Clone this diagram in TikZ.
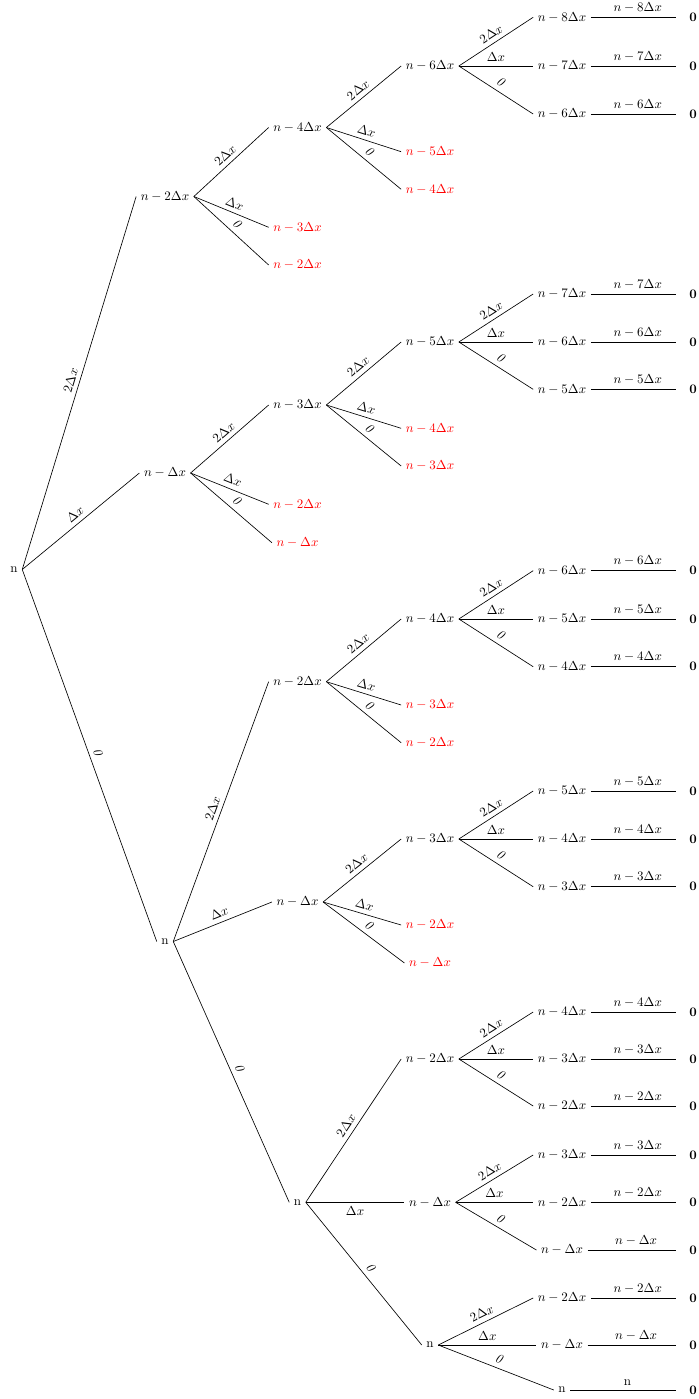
\documentclass[tikz,border=0pt]{standalone}
\begin{document}
\begin{tikzpicture}[x=0.77pt,y=-0.77pt,
  nd/.style={inner sep=3.333pt},
  rd/.style={nd,text=red},
  zero/.style={inner sep=3.333pt,font=\bfseries},
  el/.style={sloped,above,midway},
  every path/.style={line width=0.5pt}]
\useasboundingbox (0,0) rectangle (699,1399);
\newcommand\mysplit[4]{%
  \draw (#1.east) -- node[el]{$2\Delta x$} (#2.west);
  \draw (#1.east) -- node[el]{$\Delta x$} (#3.west);
  \draw (#1.east) -- node[el]{\textit{0}} (#4.west);}
\newcommand\myleaf[3]{%
  \node[nd] (#1) at (562,#2) {#3};
  \node[zero] (#1z) at (693,#2) {0};
  \draw[shorten >=6.9pt] (#1.east) -- node[above,midway]{#3} (#1z.west);}
% level 0/1
\node[nd] (r) at (14,569.5) {n};
\node[nd] (a) at (165,196.5) {$n-2\Delta x$};
\node[nd] (b) at (165,473) {$n-\Delta x$};
\node[nd] (c) at (165,941.5) {n};
\mysplit{r}{a}{b}{c}
% level 2
\node[nd] (aa) at (297.5,127.5) {$n-4\Delta x$};
\node[rd] (ab) at (297.5,227.3) {$n-3\Delta x$};
\node[rd] (ac) at (297.5,265) {$n-2\Delta x$};
\mysplit{a}{aa}{ab}{ac}
\node[nd] (ba) at (297.5,405) {$n-3\Delta x$};
\node[rd] (bb) at (297.5,504.3) {$n-2\Delta x$};
\node[rd] (bc) at (297.5,542.7) {$n-\Delta x$};
\mysplit{b}{ba}{bb}{bc}
\node[nd] (ca) at (297.5,681.7) {$n-2\Delta x$};
\node[nd] (cb) at (297.5,902) {$n-\Delta x$};
\node[nd] (cc) at (297.5,1202.3) {n};
\mysplit{c}{ca}{cb}{cc}
% level 3
\node[nd] (aaa) at (430,66) {$n-6\Delta x$};
\node[rd] (aab) at (430,151.7) {$n-5\Delta x$};
\node[rd] (aac) at (430,189.3) {$n-4\Delta x$};
\mysplit{aa}{aaa}{aab}{aac}
\node[nd] (baa) at (430,342) {$n-5\Delta x$};
\node[rd] (bab) at (430,428.3) {$n-4\Delta x$};
\node[rd] (bac) at (430,466) {$n-3\Delta x$};
\mysplit{ba}{baa}{bab}{bac}
\node[nd] (caa) at (430,619) {$n-4\Delta x$};
\node[rd] (cab) at (430,705) {$n-3\Delta x$};
\node[rd] (cac) at (430,742.7) {$n-2\Delta x$};
\mysplit{ca}{caa}{cab}{cac}
\node[nd] (cba) at (430,839) {$n-3\Delta x$};
\node[rd] (cbb) at (430,925) {$n-2\Delta x$};
\node[rd] (cbc) at (430,963) {$n-\Delta x$};
\mysplit{cb}{cba}{cbb}{cbc}
\node[nd] (cca) at (430,1059) {$n-2\Delta x$};
\node[nd] (ccb) at (430,1202.3) {$n-\Delta x$};
\node[nd] (ccc) at (430,1345) {n};
\draw (cc.east) -- node[el]{$2\Delta x$} (cca.west);
\draw (cc.east) -- node[below,midway]{$\Delta x$} (ccb.west);
\draw (cc.east) -- node[el]{\textit{0}} (ccc.west);
% level 4
\myleaf{l1}{17.3}{$n-8\Delta x$}
\myleaf{l2}{66}{$n-7\Delta x$}
\myleaf{l3}{114}{$n-6\Delta x$}
\mysplit{aaa}{l1}{l2}{l3}
\myleaf{l4}{294}{$n-7\Delta x$}
\myleaf{l5}{342}{$n-6\Delta x$}
\myleaf{l6}{389.3}{$n-5\Delta x$}
\mysplit{baa}{l4}{l5}{l6}
\myleaf{l7}{570.7}{$n-6\Delta x$}
\myleaf{l8}{619}{$n-5\Delta x$}
\myleaf{l9}{666.7}{$n-4\Delta x$}
\mysplit{caa}{l7}{l8}{l9}
\myleaf{l10}{791}{$n-5\Delta x$}
\myleaf{l11}{839}{$n-4\Delta x$}
\myleaf{l12}{886.7}{$n-3\Delta x$}
\mysplit{cba}{l10}{l11}{l12}
\myleaf{l13}{1012}{$n-4\Delta x$}
\myleaf{l14}{1059}{$n-3\Delta x$}
\myleaf{l15}{1106}{$n-2\Delta x$}
\mysplit{cca}{l13}{l14}{l15}
\myleaf{l16}{1155}{$n-3\Delta x$}
\myleaf{l17}{1202.3}{$n-2\Delta x$}
\myleaf{l18}{1250}{$n-\Delta x$}
\mysplit{ccb}{l16}{l17}{l18}
\myleaf{l19}{1298}{$n-2\Delta x$}
\myleaf{l20}{1345}{$n-\Delta x$}
\myleaf{l21}{1390}{n}
\mysplit{ccc}{l19}{l20}{l21}
\end{tikzpicture}
\end{document}
